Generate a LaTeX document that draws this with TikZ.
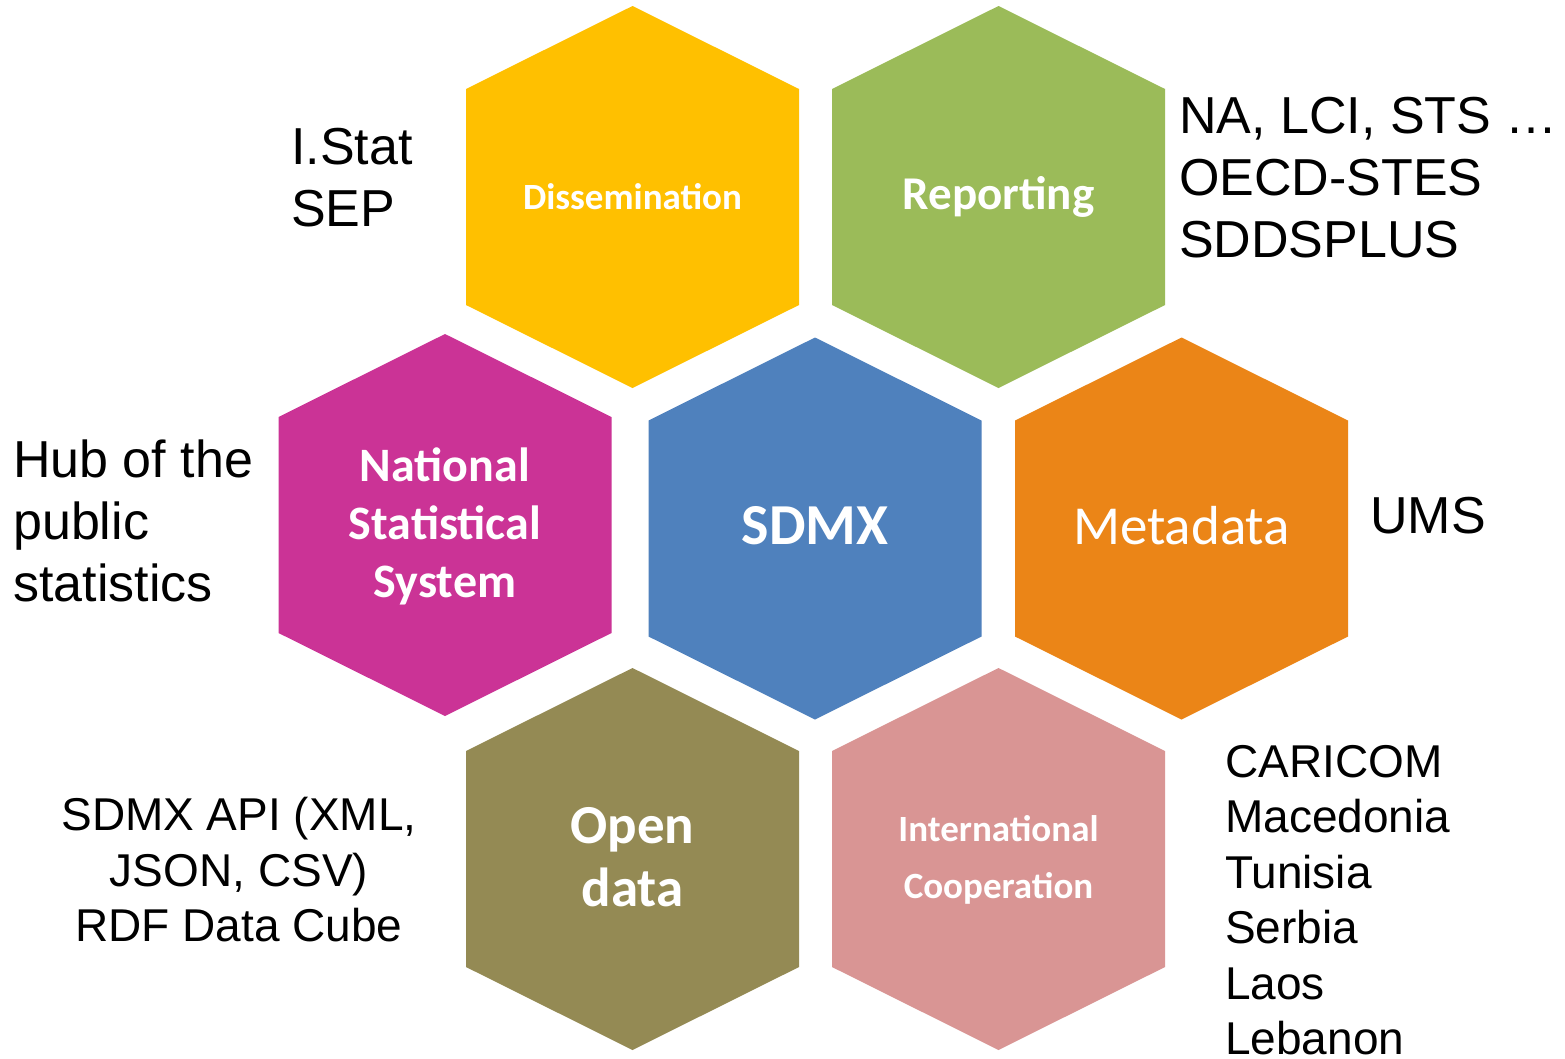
\documentclass[tikz,border=0pt]{standalone}
\usepackage{fontspec}
\setmainfont{Liberation Sans}
\newfontfamily\calfont{Carlito}
\definecolor{cdiss}{HTML}{FFC000}
\definecolor{crep}{HTML}{9BBB59}
\definecolor{cnss}{HTML}{CB3396}
\definecolor{csdmx}{HTML}{4F81BD}
\definecolor{cmeta}{HTML}{EB8517}
\definecolor{copen}{HTML}{948A54}
\definecolor{cintl}{HTML}{D99594}
\newcommand\hexcell[3]{% cx, cy, color
  \fill[#3] (#1,#2) ++(0,-191) -- ++(166.5,83) -- ++(0,216) -- ++(-166.5,83) -- ++(-166.5,-83) -- ++(0,-216) -- cycle;}
\begin{document}
\begin{tikzpicture}[x=1pt,y=-1pt,
  hexlabel/.style={text=white, align=center, inner sep=0pt},
  side/.style={text=black, align=left, inner sep=0pt, anchor=north west},
  bigside/.style={font=\fontsize{52}{62}\selectfont},
  smallside/.style={font=\fontsize{46}{55.5}\selectfont}]
\useasboundingbox (0,0) rectangle (1565,1058);
\fill[white] (0,0) rectangle (1565,1058);
% hexagons
\hexcell{632.5}{197}{cdiss}
\hexcell{998.5}{197}{crep}
\hexcell{445}{525}{cnss}
\hexcell{815}{528.5}{csdmx}
\hexcell{1181.5}{528.5}{cmeta}
\hexcell{632.5}{859}{copen}
\hexcell{998.5}{859}{cintl}
% labels
\node[hexlabel, font=\calfont\bfseries\fontsize{37}{44}\selectfont] (diss) at (632.5,197) {Dissemination};
\node[hexlabel, font=\calfont\bfseries\fontsize{47}{54}\selectfont] (rep) at (998.5,197) {Reporting};
\node[hexlabel, font=\calfont\bfseries\fontsize{48}{58}\selectfont] (nss) at (445,526) {National\\Statistical\\System};
\node[hexlabel, font=\calfont\bfseries\fontsize{58}{66}\selectfont] (sdmx) at (815,526) {SDMX};
\node[hexlabel, font=\calfont\fontsize{55}{64}\selectfont] (meta) at (1181.5,526) {Metadata};
\node[hexlabel, font=\calfont\bfseries\fontsize{55}{63}\selectfont] (open) at (632.5,857) {Open\\data};
\node[hexlabel, font=\calfont\bfseries\fontsize{37}{57}\selectfont] (intl) at (998.5,860) {International\\Cooperation};
% side texts
\node[side, bigside] (istat) at (291,128) {I.Stat\\SEP};
\node[side, bigside] (reptxt) at (1179,97) {NA, LCI, STS …\\OECD-STES\\SDDSPLUS};
\node[side, bigside] (hub) at (13,440) {Hub of the\\public\\statistics};
\node[side, bigside] (ums) at (1370,497) {UMS};
\node[side, smallside, anchor=north, align=center] (api) at (239,797) {SDMX API (XML,\\JSON, CSV)\\RDF Data Cube};
\node[side, smallside] (coop) at (1225,745) {CARICOM\\Macedonia\\Tunisia\\Serbia\\Laos\\Lebanon};
\end{tikzpicture}
\end{document}
